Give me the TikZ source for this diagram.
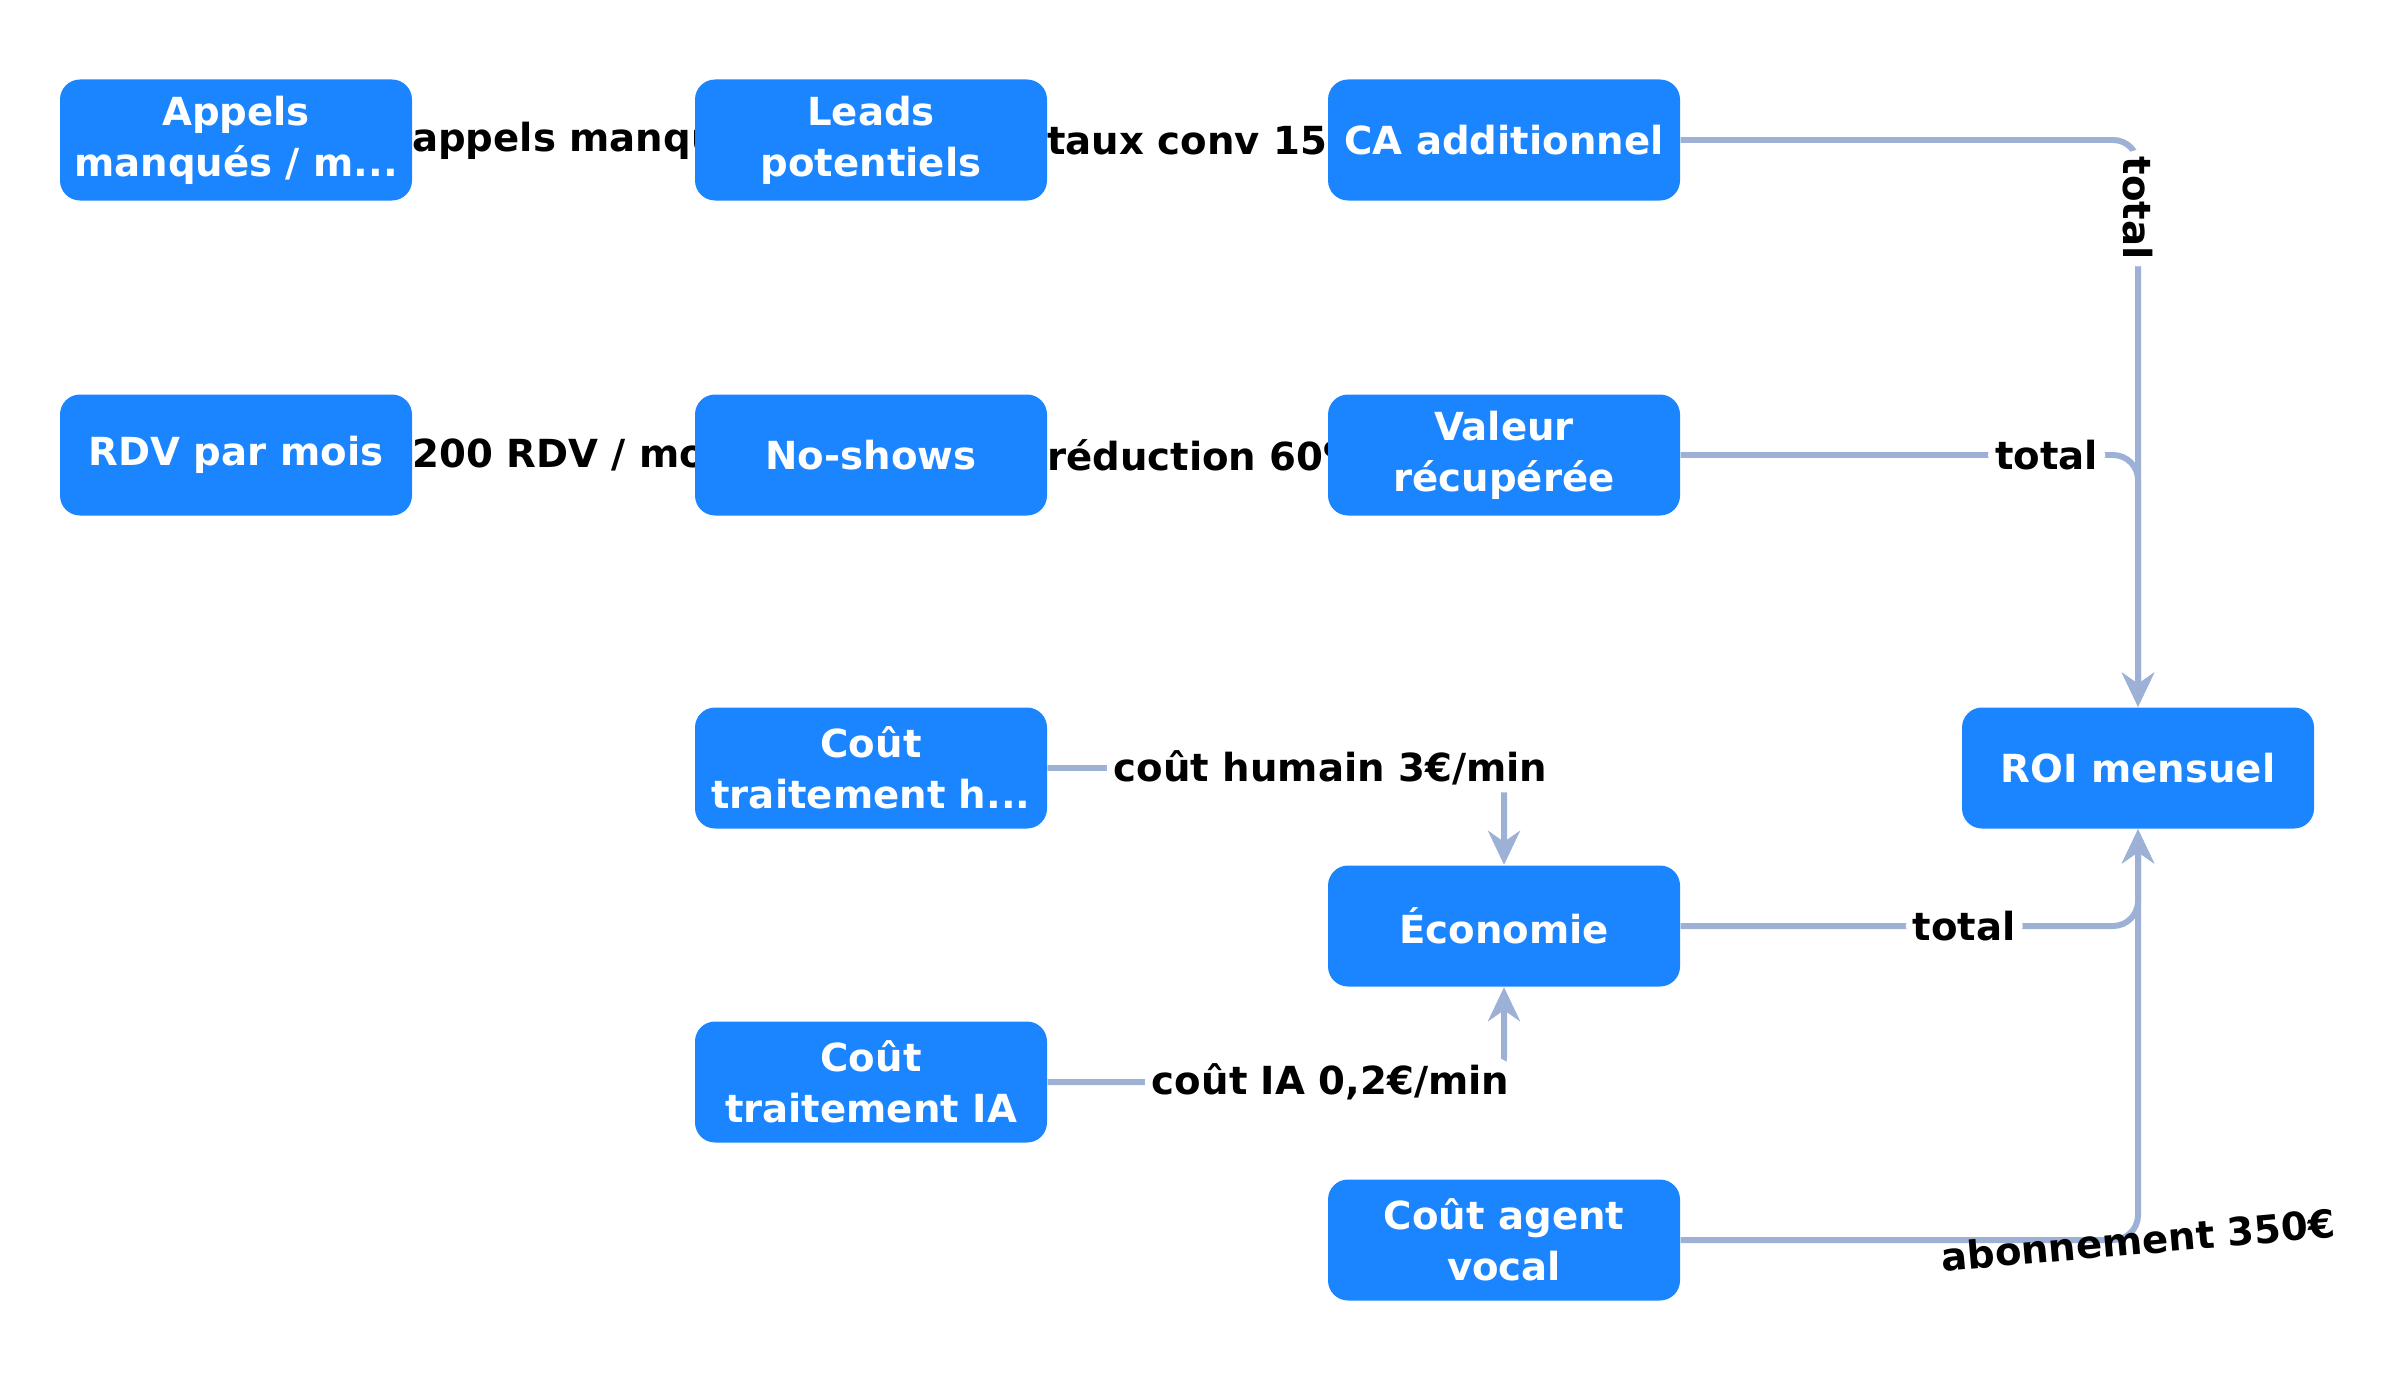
\documentclass[tikz,border=0pt]{standalone}
\usepackage{fontspec}
\setmainfont{DejaVu Sans}
\usetikzlibrary{arrows.meta, positioning}
\pgfdeclarelayer{background}
\pgfsetlayers{background,main}
\definecolor{boxblue}{HTML}{1A85FF}
\definecolor{linkgray}{HTML}{9DB0D6}
\begin{document}
\begin{tikzpicture}[
            >={Stealth[width=3.2mm,length=3.4mm]},
                stepbox/.style = {rectangle, rounded corners=0.2cm, fill=boxblue,
                            minimum width=3.52cm, minimum height=1.21cm,
                            text=white, align=center, inner sep=1pt,
                            font=\fontsize{11}{14.5}\selectfont\bfseries},
                link/.style = {draw=linkgray, line width=1.7pt, ->, rounded corners=0.25cm},
                tag/.style = {fill=white, text=black, inner sep=2pt,
                            font=\fontsize{11}{14}\selectfont\bfseries},
                headtag/.style = {tag, anchor=west, pos=0, xshift=-3pt}]
            \useasboundingbox (0,0) rectangle (24,-13.8);
            % nodes
            \node (Appels) [stepbox] at (2.36,-1.40) {Appels\\manqués / m...};
            \node (Leads) [stepbox] at (8.71,-1.40) {Leads\\potentiels};
            \node (CA) [stepbox] at (15.04,-1.40) {CA additionnel};
            \node (RDV) [stepbox] at (2.36,-4.55) {RDV par mois};
            \node (NoShows) [stepbox] at (8.71,-4.55) {No-shows};
            \node (Valeur) [stepbox] at (15.04,-4.55) {Valeur\\récupérée};
            \node (CoutHumain) [stepbox] at (8.71,-7.68) {Coût\\traitement h...};
            \node (ROI) [stepbox] at (21.38,-7.68) {ROI mensuel};
            \node (Economie) [stepbox] at (15.04,-9.26) {Économie};
            \node (CoutIA) [stepbox] at (8.71,-10.82) {Coût\\traitement IA};
            \node (CoutAgent) [stepbox] at (15.04,-12.40) {Coût agent\\vocal};
            % connectors
            \begin{pgfonlayer}{background}
            \draw[link] (Appels) -- node[headtag] {appels manqués / mois} (Leads);
            \draw[link] (Leads) -- node[headtag] {taux conv 15\%} (CA);
            \draw[link] (RDV) -- node[headtag] {200 RDV / mois} (NoShows);
            \draw[link] (NoShows) -- node[headtag] {réduction 60\%} (Valeur);
            \draw[link] (CA) -| node[tag, pos=0.56, sloped] {total} (ROI);
            \draw[link] (Valeur) -| node[tag, pos=0.4] {total} (ROI);
            \draw[link] (Economie) -| node[tag, pos=0.31] {total} (ROI);
            \draw[link] (CoutAgent) -| node[tag, pos=0.5, rotate=5, fill=none] {abonnement 350€} (ROI);
            \draw[link] (CoutHumain) -| node[tag, pos=0.31] {coût humain 3€/min} (Economie);
            \draw[link] (CoutIA) -| node[tag, pos=0.31] {coût IA 0,2€/min} (Economie);
            \end{pgfonlayer}
        \end{tikzpicture}
\end{document}
